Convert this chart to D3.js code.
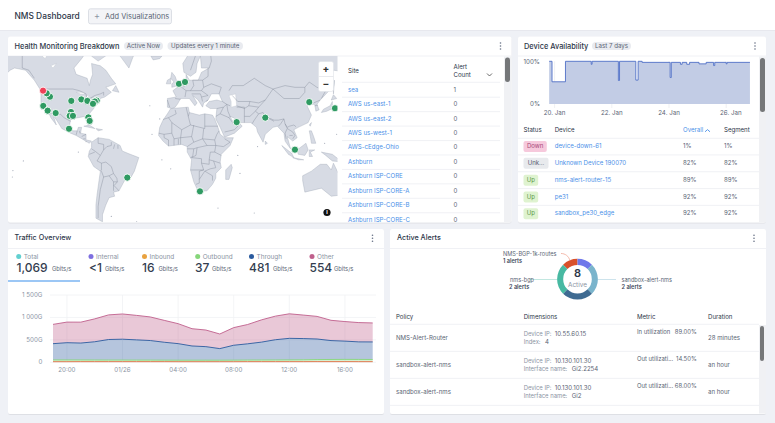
<!DOCTYPE html>
<html>
<head>
<meta charset="utf-8">
<title>NMS Dashboard</title>
<script src="https://cdn.jsdelivr.net/npm/d3@7"></script>
<style>
  html, body { margin: 0; padding: 0; background: #eff1f6; overflow: hidden; }
  svg { display: block; font-family: Inter, "Noto Sans", sans-serif; }
</style>
</head>
<body>
<div id="chart"></div>
<script>
// Health map: sites
const siteLonLat = [
  [-115.8,44.2],[-118.8,46.4],[-121.9,37.9],[-117.9,34.4],[-110.6,32.6],[-96.4,41.4],[-87.3,42.4],
  [-81.8,41.4],[-73.3,41.6],[-75.0,41.0],[-76.7,39.4],[-96.7,33.4],[-97.9,30.4],[-94.9,30.4],[-80.9,29.2],
  [-79.7,26.4],[-98.5,19.8],[1.5,52],[7,53],[54,25.4],[80,29],[120,40.6],[143.4,36.2],[107,1.2],
  [-45.5,-23.5],[20.6,-34.4]
];
const downSiteLonLat = [[-122.1,48.0]];

// Land outlines, rough, in lon/lat
const landShapes = [
  [[-168,66],[-162,70],[-156,71],[-141,70],[-128,70],[-115,68],[-108,68],[-95,68],[-94,72],[-85,70],[-82,67],[-87,64],[-94,60],[-92,57],[-82,55],[-80,51],[-79,54],[-77,57],[-78,62],[-70,61],[-65,59],[-60,55],[-56,52],[-65,50],[-60,47],[-66,44],[-70,43],[-74,40],[-76,36],[-81,31],[-80,26],[-82,27],[-84,30],[-90,29],[-97,28],[-98,22],[-95,18],[-91,18],[-90,21],[-87,21],[-88,16],[-83,15],[-83,10],[-78,9],[-80,7],[-85,10],[-92,14],[-97,16],[-105,20],[-109,26],[-113,31],[-110,23],[-115,29],[-117,33],[-121,35],[-124,40],[-124,48],[-130,54],[-138,59],[-148,60],[-152,59],[-158,56],[-165,54],[-160,59],[-165,62]],
  [[-78,8],[-72,12],[-62,10.5],[-52,5],[-50,0],[-44,-2.5],[-35,-6],[-37,-12],[-39,-18],[-42,-23],[-48,-26],[-53,-34],[-58,-35],[-57,-38],[-62,-39],[-65,-44],[-68,-50],[-68,-54],[-74,-52],[-74,-44],[-73,-37],[-70,-18],[-76,-14],[-81,-5],[-80,0],[-78,3]],
  [[-6,36],[10,37],[11,33],[20,31],[25,32],[32,31],[34,28],[37,21],[39,15],[43,12],[51,12],[48,5],[40,-3],[39,-10],[40,-15],[35,-20],[35,-24],[32,-29],[27,-34],[19,-34.5],[15,-27],[12,-17],[13,-8],[9,-1],[9,4],[4,6],[-4,5],[-8,4.5],[-13,9],[-17,14],[-16,21],[-13,27],[-9,32]],
  [[-9,37],[-9,43],[-1,44],[-4,48],[2,51],[8,54],[8,57],[11,54],[19,54],[22,58],[29,60],[22,60],[21,65],[18,62],[17,58],[12,56],[6,58],[5,62],[14,68],[25,71],[40,67],[44,68],[68,69],[73,72],[100,76],[113,74],[140,73],[160,70],[180,69],[178,62],[163,60],[156,51],[155,58],[142,59],[135,54],[141,50],[130,42],[127,39],[129,35],[126,34],[125,39],[121,39],[118,38],[122,31],[119,25],[110,21],[106,19],[109,12],[105,9],[100,13],[103,2],[98,9],[97,16],[91,22],[87,21],[80,15],[78,8],[73,17],[72,21],[67,25],[57,25],[51,29],[48,30],[51,25],[56,25],[59,22],[52,16],[43,12.5],[39,21],[35,28],[36,36],[30,36],[26,38],[29,41],[36,42],[41,41],[38,46],[31,46],[28,42],[24,40],[23,37],[19,42],[14,45],[18,40],[16,38],[11,43],[3,43],[0,39],[-2,37],[-5,36]],
  [[-5,50],[1,51],[-2,56],[-5,58],[-6,55],[-3,53],[-5,52]],
  [[-10,52],[-6,52],[-6,55],[-9,54]],
  [[-24,65],[-14,65],[-16,64],[-22,63.5]],
  [[131,33],[136,34],[141,36],[141,41],[139,38],[133,35.5]],
  [[140,42],[145,43],[142,45.5]],
  [[142,46],[143,54],[142,50]],
  [[44,-25],[47,-25],[50,-15],[49,-12],[44,-17]],
  [[95,5],[104,-2],[106,-6],[101,-3]],
  [[105,-6],[115,-8],[110,-8]],
  [[109,1],[117,7],[119,1],[116,-4],[110,-3]],
  [[120,1],[125,1],[121,-1],[123,-5],[120,-5]],
  [[131,-1],[141,-3],[150,-10],[141,-9],[135,-4]],
  [[114,-22],[122,-18],[130,-12],[136,-12],[140,-17],[142,-11],[146,-19],[153,-26],[150,-37],[140,-38],[131,-32],[116,-35],[114,-26]],
  [[120,18],[122,18],[124,13],[126,7],[122,7],[121,13]],
  [[120,23],[122,25],[121,22]],
  [[80,9],[82,7],[80,6]],
  [[-85,22],[-75,20],[-80,23]],
  [[-74,20],[-68,19],[-72,18]],
  [[-73,78],[-60,82],[-30,83],[-18,76],[-22,70],[-40,65],[-44,60],[-52,65],[-55,70]],
  [[-80,73],[-68,70],[-62,66],[-72,63],[-78,65],[-88,71]],
  [[-117,70],[-105,69],[-105,73],[-117,73]],
  [[-125,72],[-118,72],[-118,75],[-124,75]],
  [[-59,48],[-53,47],[-56,51]]
];
const waterShapes = [
  [[47,45],[53,46],[54,38],[49,37],[49,41]],
  [[-92,47],[-85,47],[-84,46],[-88,46]],
  [[-87,45],[-86,42],[-88,42]],
  [[-83,45],[-80,45],[-82,43]],
  [[-83,42],[-76,44],[-79,43]],
  [[-123,65],[-118,66],[-120,64]],
  [[-115,61],[-110,62],[-113,60]]
];
const borderLines = [
  [[-123,49],[-95,49],[-89,48],[-83,46],[-82,42],[-75,45],[-70,46],[-67,47],[-67,45]],
  [[-141,70],[-141,60],[-135,59],[-130,55]],
  [[-117,32.5],[-106,31.5],[-103,29],[-97,26]],
  [[-92,14.5],[-91,18]],[[-89,18],[-88.5,15.8]],[[-83,15],[-87,13]],[[-83.5,11],[-85.5,11]],[[-83,9],[-83,8]],
  [[-72,12],[-72,7],[-67,6],[-67,1],[-70,-4]],[[-60,8],[-60,5],[-64,4],[-67,1]],[[-57,6],[-58,2]],[[-54,5.5],[-54,2]],
  [[-78,2],[-75,0],[-70,-4],[-73,-9],[-69,-11],[-69,-17],[-70,-18]],[[-80,-3],[-75,-1]],
  [[-69,-11],[-65,-10],[-60,-14],[-58,-20],[-62,-22],[-67,-23],[-69,-18]],
  [[-58,-20],[-55,-24],[-54.5,-27],[-58,-27],[-62,-22]],[[-54.5,-27],[-57.5,-30],[-53,-34]],[[-58,-27],[-58,-34]],
  [[-67,-23],[-70,-33],[-72,-45],[-72,-52]],
  [[-2,35],[-1,32],[-8,29],[-13,27.5]],[[-8,29],[-5,25],[4,19],[12,23],[10,30],[8,37]],[[10,30],[11,33]],[[12,23],[25,20],[25,32]],
  [[25,22],[37,22]],[[-17,16],[-12,15],[-5,16],[-5,25]],[[-12,15],[-12,12],[-8,10],[-8,4.5]],[[4,19],[3,12],[3,6]],
  [[-5,16],[-3,11],[3,12],[13,13],[15,8],[9,4]],[[-3,11],[-3,5]],[[1,11],[1,6]],[[13,13],[15,23]],
  [[24,20],[23,11],[15,8]],[[23,11],[34,10],[36,15],[38,18]],[[34,10],[35,5],[42,4],[48,8],[43,11]],[[23,11],[27,5],[35,5]],
  [[35,5],[34,-1],[40,-4]],[[34,-1],[30,-1],[29,-8],[33,-9],[39,-11]],[[27,5],[18,3],[15,2],[9,2]],[[15,2],[14,-5],[12,-6]],
  [[18,3],[17,-4],[13,-6]],[[13,-6],[22,-7],[22,-11],[29,-12],[29,-8]],[[22,-11],[24,-17],[12,-17]],[[24,-17],[20,-18],[20,-28],[17,-29]],
  [[33,-9],[35,-15],[30,-16],[25,-18],[20,-25]],[[25,-18],[32,-22],[32,-26]],
  [[-2,43],[3,42.5]],[[-9,42],[-7,37]],[[2,51],[6,49],[8,48],[7,44]],[[7,54],[6,50]],[[14,54],[15,51],[12,48],[8,48]],[[14,54],[23,54],[24,50],[22,48],[17,48],[12,48]],
  [[13,46],[21,46],[22,44],[23,41]],[[28,45],[22,44]],[[22,48],[28,45]],[[24,50],[31,52],[40,50],[38,46]],[[23,54],[28,56],[28,60]],
  [[12,59],[20,69]],[[20,69],[29,70]],[[29,60],[31,63],[29,70]],
  [[28,42],[26,41]],[[36,36],[42,37],[45,39],[41,41]],[[45,39],[48,38]],[[42,37],[39,32],[35,30]],[[39,32],[47,29],[48,30]],
  [[45,39],[46,34],[48,30]],[[47,29],[51,24],[55,22],[52,19],[43,17]],[[61,37],[54,37]],[[61,37],[61,30],[61,25]],[[61,30],[66,30],[71,34],[74,37],[65,38],[61,36]],
  [[71,34],[74,32],[70,27],[68,24]],[[74,32],[78,33],[80,30],[88,27],[92,27],[97,28],[94,24],[92,22]],[[80,30],[88,26]],
  [[50,45],[55,41],[66,41],[74,40],[80,42],[87,49],[80,51],[70,55],[60,51],[50,51],[47,48]],[[54,38],[61,36]],[[66,41],[65,38]],
  [[87,49],[98,51],[107,50],[116,50],[120,53],[127,50],[135,48],[131,43]],[[87,49],[97,43],[111,43],[116,47],[116,50]],
  [[74,37],[80,42]],[[97,28],[98,24],[100,21],[102,22],[106,23],[108,21.5]],[[98,24],[100,20],[98,16],[99,11]],[[100,20],[105,17],[107,14],[105,11]],[[102,14],[105,14]],
  [[124,40],[130,42]],[[125,38],[128,38.5]]
];
const tinyIslands = [
  [-157,21],[-155.5,19.7],[-171,-14],[-175,-21],[-149.5,-17.5],[-160,-21],[-140,-9],[-178,-17],[-172,-3],[-163,-11],[-150,-23],
  [167,-16],[160,-9],[166,-21],[178,-18],[172,2],[145,15],[134,7],[57,-20],[55,-4],[73,4],[-25,38],[-16,28],[-23,15],[-14,-8],[-6,-16],
  [-90,-1],[-60,-51],[-37,-54],[70,-49],[37,-46]
];

// Alerts table on the health card
const siteNames = ['sea','AWS us-east-1','AWS us-east-2','AWS us-west-1','AWS-cEdge-Ohio','Ashburn','Ashburn ISP-CORE','Ashburn ISP-CORE-A','Ashburn ISP-CORE-B','Ashburn ISP-CORE-C'];
const siteAlertCounts = [1,0,0,0,0,0,0,0,0,0];

// Device availability
const availDays = [19.81,19.91,19.91,20.38,20.38,21.28,21.28,21.31,21.31,22.23,22.23,22.27,22.27,22.84,22.84,22.92,22.92,23.06,23.06,24.04,24.04,24.08,24.08,24.4,24.4,24.46,24.46,24.62,24.62,24.72,24.72,25.05,25.05,25.3,25.3,25.56,25.56,25.6,25.6,26.0,26.0,26.03,26.03,26.83];
const availPct  = [100,100,52,52,100,100,93,93,100,100,55,55,100,100,56,56,100,100,97.5,97.5,62,62,97.5,97.5,93,93,97.5,97.5,93,93,97.5,97.5,94,94,97.5,97.5,90,90,97.5,97.5,94,94,97.5,97.5];
const availTicks = [20,22,24,26];

const deviceStatus = ['Down','Unk...','Up','Up','Up'];
const deviceNames = ['device-down-61','Unknown Device 190070','nms-alert-router-15','pe31','sandbox_pe30_edge'];
const deviceOverall = ['1%','82%','89%','92%','92%'];
const deviceSegment = ['1%','82%','89%','92%','92%'];

// Traffic overview
const trafficKeys = ['Total','Internal','Inbound','Outbound','Through','Other'];
const trafficTotals = ['1,069','<1','16','37','481','554'];
const trafficColors = ['#62d0d0','#7e6fe0','#e9a23f','#86d67a','#2a5a9e','#c0608c'];
const trafficHours = d3.range(24); // hourly from 19:00
const inboundVals = [15,15,16,16,16,16,16,16,16,15,15,15,15,15,16,16,16,16,16,17,17,17,16,16];
const outboundVals = [38,38,36,35,34,34,33,33,32,32,32,32,32,33,34,35,36,38,40,44,46,48,48,47];
const throughVals = [362,384,377,407,458,465,451,436,399,369,317,302,258,332,362,399,451,480,473,458,421,407,391,391];
const otherVals = [430,459,466,510,549,562,546,526,488,445,385,370,326,393,430,496,526,547,524,504,452,436,430,423];
const trafficTickHours = [1,5,9,13,17,21];
const trafficTickLabels = ['20:00','01/26','04:00','08:00','12:00','16:00'];
const trafficYTicks = [0,500,1000,1500];
const trafficYLabels = ['0','500G','1 000G','1 500G'];

// Active alerts
const donutNames = ['NMS-BGP-1k-routes','other','sandbox-alert-nms','NMS-Alert-Router','nms-bgp'];
const donutValues = [1,1,2,2,2];
const donutColors = ['#d9512b','#6f78ea','#7ab4cc','#3f6b92','#48b9a2'];

const alertPolicies = ['NMS-Alert-Router','sandbox-alert-nms','sandbox-alert-nms'];
const alertIps = ['10.55.60.15','10.130.101.30','10.130.101.30'];
const alertDimLabels = ['Index:','Interface name:','Interface name:'];
const alertDimValues = ['4','Gi2.2254','Gi2'];
const alertMetrics = ['In utilization','Out utilizati...','Out utilizati...'];
const alertMetricValues = ['89.00%','14.50%','68.00%'];
const alertDurations = ['28 minutes','an hour','an hour'];

const width = 775, height = 423;
const inkDark = '#2c3648', inkMid = '#5a6474', inkSoft = '#8b94a3', linkBlue = '#4a90e8', lineSoft = '#eceef2';
const tableSize = 6.1;

const svg = d3.select('#chart').append('svg')
  .attr('width', width).attr('height', height).attr('viewBox', `0 0 ${width} ${height}`);

const defs = svg.append('defs');
const shadow = defs.append('filter').attr('id', 'cardShadow').attr('x', '-2%').attr('y', '-2%').attr('width', '104%').attr('height', '104%');
shadow.append('feDropShadow').attr('dx', 0).attr('dy', 0.5).attr('stdDeviation', 0.7).attr('flood-color', '#000').attr('flood-opacity', 0.14);

function txt(g, x, y, str, o = {}) {
  return g.append('text').attr('x', x).attr('y', y)
    .attr('dominant-baseline', 'middle')
    .attr('text-anchor', o.anchor || 'start')
    .attr('font-size', o.size || tableSize)
    .attr('font-weight', o.weight || 400)
    .attr('fill', o.fill || inkMid)
    .text(str);
}
function hline(g, x1, x2, y, color = lineSoft) {
  g.append('line').attr('x1', x1).attr('x2', x2).attr('y1', y).attr('y2', y).attr('stroke', color).attr('stroke-width', 0.8);
}
function card(x, y, w, h) {
  svg.append('rect').attr('x', x).attr('y', y).attr('width', w).attr('height', h).attr('rx', 2)
    .attr('fill', '#fff').attr('filter', 'url(#cardShadow)');
}
function kebab(x, y) {
  svg.selectAll(null).data([-3, 0, 3]).enter().append('circle')
    .attr('cx', x).attr('cy', d => y + d).attr('r', 0.8).attr('fill', '#667085');
}
function pill(x, y, w, str) {
  svg.append('rect').attr('x', x).attr('y', y - 4).attr('width', w).attr('height', 8).attr('rx', 4).attr('fill', '#e9ebf0');
  txt(svg, x + w / 2, y, str, { anchor: 'middle', size: 6.2, fill: '#5a6474' });
}
function scrollbar(x, y1, y2, w = 5) {
  svg.append('rect').attr('x', x).attr('y', y1).attr('width', w).attr('height', y2 - y1).attr('rx', w / 2).attr('fill', '#757779');
}

// Page header
svg.append('rect').attr('width', width).attr('height', 30).attr('fill', '#fff');
hline(svg, 0, width, 30.5, '#e4e6ec');
txt(svg, 14.5, 16.5, 'NMS Dashboard', { size: 8.4, weight: 500, fill: inkDark });
svg.append('rect').attr('x', 88.5).attr('y', 8.8).attr('width', 83).attr('height', 15).attr('rx', 2)
  .attr('fill', '#f3f4f7').attr('stroke', '#d4d8e0').attr('stroke-width', 0.8);
txt(svg, 97, 16.5, '+', { anchor: 'middle', size: 9, fill: inkSoft });
txt(svg, 105, 16.5, 'Add Visualizations', { size: 7.4, fill: inkMid });

// Health Monitoring card
card(8, 36.5, 503.5, 186);
txt(svg, 14.5, 46.5, 'Health Monitoring Breakdown', { size: 7.4, weight: 500, fill: inkDark });
pill(124, 46, 39, 'Active Now');
pill(167.5, 46, 75.5, 'Updates every 1 minute');
kebab(500.5, 46);
hline(svg, 8, 511.5, 56);

defs.append('clipPath').attr('id', 'mapClip').append('rect').attr('x', 8).attr('y', 56).attr('width', 329.5).attr('height', 166);
const mapG = svg.append('g').attr('clip-path', 'url(#mapClip)');
const projection = d3.geoMercator().scale(63).translate([177.3, 151]);
const shapePath = d3.line();
const toScreen = pts => pts.map(p => projection(p));

mapG.selectAll('path.land').data(landShapes).enter().append('path').attr('class', 'land')
  .attr('d', d => shapePath(toScreen(d)) + 'Z')
  .attr('fill', '#d7dbe4').attr('stroke', '#9aa2b0').attr('stroke-width', 0.35);
mapG.selectAll('path.water').data(waterShapes).enter().append('path').attr('class', 'water')
  .attr('d', d => shapePath(toScreen(d)) + 'Z')
  .attr('fill', '#fff').attr('stroke', '#b4bac6').attr('stroke-width', 0.3);
mapG.selectAll('path.border').data(borderLines).enter().append('path').attr('class', 'border')
  .attr('d', d => shapePath(toScreen(d)))
  .attr('fill', 'none').attr('stroke', '#7f8796').attr('stroke-width', 0.4);
mapG.selectAll('circle.isle').data(tinyIslands).enter().append('circle').attr('class', 'isle')
  .attr('cx', d => projection(d)[0]).attr('cy', d => projection(d)[1]).attr('r', 0.6).attr('fill', '#a7adba');
mapG.selectAll('circle.site').data(siteLonLat).enter().append('circle').attr('class', 'site')
  .attr('cx', d => projection(d)[0]).attr('cy', d => projection(d)[1]).attr('r', 3.6)
  .attr('fill', '#2f9a62').attr('stroke', '#fff').attr('stroke-width', 0.9);
mapG.selectAll('circle.down').data(downSiteLonLat).enter().append('circle').attr('class', 'down')
  .attr('cx', d => projection(d)[0]).attr('cy', d => projection(d)[1]).attr('r', 3.6)
  .attr('fill', '#ef4058').attr('stroke', '#fff').attr('stroke-width', 0.9);

// Zoom control and info icon
svg.append('rect').attr('x', 318.5).attr('y', 61.5).attr('width', 15).attr('height', 30).attr('rx', 2)
  .attr('fill', '#fff').attr('stroke', '#dfe2e8').attr('stroke-width', 0.6);
hline(svg, 318.5, 333.5, 76.5, '#e3e5ea');
txt(svg, 326, 69.5, '+', { anchor: 'middle', size: 10, weight: 700, fill: '#333' });
txt(svg, 326, 84, '\u2212', { anchor: 'middle', size: 10, weight: 700, fill: '#333' });
svg.append('circle').attr('cx', 327).attr('cy', 212.5).attr('r', 3.6).attr('fill', '#111');
txt(svg, 327, 212.8, 'i', { anchor: 'middle', size: 5.5, weight: 700, fill: '#fff' });

// Site table
txt(svg, 348, 71, 'Site', { fill: inkDark });
txt(svg, 453.5, 67, 'Alert', { fill: inkDark });
txt(svg, 453.5, 75.5, 'Count', { fill: inkDark });
svg.append('path').attr('d', d3.line()([[487, 73.5], [489.5, 76], [492, 73.5]])).attr('fill', 'none').attr('stroke', '#444').attr('stroke-width', 0.8);
const siteRow = d3.scaleLinear().domain([0, 9]).range([90, 220]);
hline(svg, 342, 500, 82.3);
siteNames.forEach((name, i) => {
  txt(svg, 348, siteRow(i), name, { fill: linkBlue });
  txt(svg, 453.5, siteRow(i), siteAlertCounts[i]);
  if (i < 9) hline(svg, 342, 500, siteRow(i) + 7.2);
});
svg.append('rect').attr('x', 504).attr('y', 56.5).attr('width', 7.5).attr('height', 165.5).attr('fill', '#f0f1f4');
scrollbar(505, 57.5, 82);

// Device Availability card
card(518, 36.5, 248, 186);
txt(svg, 524, 46.5, 'Device Availability', { size: 7.4, weight: 500, fill: inkDark });
pill(592, 46, 39, 'Last 7 days');
kebab(755, 46);
hline(svg, 518, 766, 56);

const availX = d3.scaleLinear().domain([20, 22]).range([554.6, 611.8]);
const availY = d3.scaleLinear().domain([0, 100]).range([104, 61.3]);
svg.selectAll(null).data(availTicks).enter().append('line')
  .attr('x1', d => availX(d)).attr('x2', d => availX(d)).attr('y1', 61.3).attr('y2', 108)
  .attr('stroke', '#e4e6eb').attr('stroke-width', 0.6);
const availPts = availDays.map((d, i) => [availX(d), availY(availPct[i])]);
svg.append('path').attr('d', d3.area().x(d => d[0]).y0(availY(0)).y1(d => d[1])(availPts)).attr('fill', '#c2cce5');
svg.append('path').attr('d', d3.line()(availPts)).attr('fill', 'none').attr('stroke', '#4f6fc6').attr('stroke-width', 0.9);
txt(svg, 523.5, 62, '100%', { size: 6.2 });
txt(svg, 530, 104.5, '0%', { size: 6.2 });
availTicks.forEach(d => {
  const nudge = d === 26 ? 4.7 : 0;
  txt(svg, availX(d) + nudge, 113.5, `${d}. Jan`, { anchor: 'middle', size: 6.2 });
});

txt(svg, 523.5, 130.5, 'Status', { fill: inkDark });
txt(svg, 554.7, 130.5, 'Device', { fill: inkDark });
txt(svg, 683, 130.5, 'Overall', { fill: linkBlue });
svg.append('path').attr('d', d3.line()([[705, 131.8], [707.5, 129.6], [710, 131.8]])).attr('fill', 'none').attr('stroke', linkBlue).attr('stroke-width', 0.9);
txt(svg, 724, 130.5, 'Segment', { fill: inkDark });
hline(svg, 518, 759, 138.3);
const deviceRow = d3.scaleLinear().domain([0, 4]).range([146.5, 213.8]);
const badgeStyle = { 'Down': ['#f6c9dc', '#a8487a', 23.3], 'Unk...': ['#e8eaed', '#596270', 25], 'Up': ['#dff3d0', '#5b9a48', 14.7] };
deviceNames.forEach((name, i) => {
  const y = deviceRow(i), st = badgeStyle[deviceStatus[i]];
  svg.append('rect').attr('x', 523.5).attr('y', y - 5.5).attr('width', st[2]).attr('height', 11).attr('rx', 2).attr('fill', st[0]);
  txt(svg, 523.5 + st[2] / 2, y, deviceStatus[i], { anchor: 'middle', fill: st[1] });
  txt(svg, 554.7, y, name, { fill: linkBlue });
  txt(svg, 683, y, deviceOverall[i]);
  txt(svg, 724, y, deviceSegment[i]);
  if (i < 4) hline(svg, 518, 759, y + 8.4);
});
svg.append('rect').attr('x', 759).attr('y', 56.5).attr('width', 7).attr('height', 165.5).attr('fill', '#f0f1f4');
scrollbar(760, 58, 112);

// Traffic Overview card
card(8, 229, 376, 185);
txt(svg, 14.5, 238.3, 'Traffic Overview', { size: 7.2, weight: 500, fill: inkDark });
kebab(372.5, 238.3);
hline(svg, 8, 384, 248.5);

const legendDotX = [18.7, 91, 144.5, 197.7, 251.5, 312];
const legendValX = [16.5, 89, 142, 195, 249, 309.5];
const legendUnitX = [52, 105, 158.5, 212, 273, 334];
trafficKeys.forEach((k, i) => {
  svg.append('circle').attr('cx', legendDotX[i]).attr('cy', 256.5).attr('r', 2.5).attr('fill', trafficColors[i]);
  txt(svg, legendDotX[i] + 5, 256.8, k, { size: 6.4, fill: inkSoft });
  txt(svg, legendValX[i], 268.5, trafficTotals[i], { size: 12, weight: 500, fill: '#333d4f' });
  txt(svg, legendUnitX[i], 269.5, 'Gbits/s', { size: 5.8, fill: inkMid });
});
svg.append('rect').attr('x', 8).attr('y', 280.4).attr('width', 72).attr('height', 1.2).attr('fill', '#5ba3ef');

const trafficX = d3.scaleLinear().domain([0, 23]).range([53, 372.7]);
const trafficY = d3.scaleLinear().domain([0, 1500]).range([362.3, 295]);
trafficYTicks.forEach((t, i) => {
  hline(svg, 50, 376, trafficY(t), '#f0f1f4');
  txt(svg, 42.5, trafficY(t), trafficYLabels[i], { anchor: 'end', size: 6.2, fill: inkSoft });
});
trafficTickHours.forEach((h, i) => {
  svg.append('line').attr('x1', trafficX(h)).attr('x2', trafficX(h)).attr('y1', 295).attr('y2', 362.3)
    .attr('stroke', '#f0f1f4').attr('stroke-width', 0.8);
  txt(svg, trafficX(h), 370, trafficTickLabels[i], { anchor: 'middle', size: 6.2, fill: inkSoft });
});

const trafficRows = trafficHours.map(h => ({
  inbound: inboundVals[h], outbound: outboundVals[h], through: throughVals[h], other: otherVals[h]
}));
const trafficStackKeys = ['inbound', 'outbound', 'through', 'other'];
const trafficStackColors = ['#e07a50', '#86d67a', '#2a5a9e', '#c0608c'];
const stacked = d3.stack().keys(trafficStackKeys)(trafficRows);
const stackArea = d3.area().x((d, i) => trafficX(i)).y0(d => trafficY(d[0])).y1(d => trafficY(d[1]));
const stackTop = d3.line().x((d, i) => trafficX(i)).y(d => trafficY(d[1]));
svg.selectAll('path.layer').data(stacked).enter().append('path').attr('class', 'layer')
  .attr('d', stackArea).attr('fill', (d, i) => trafficStackColors[i]).attr('fill-opacity', 0.35);
svg.selectAll('path.top').data(stacked).enter().append('path').attr('class', 'top')
  .attr('d', stackTop).attr('fill', 'none').attr('stroke', (d, i) => trafficStackColors[i]).attr('stroke-width', 0.9);

// Active Alerts card
card(390, 229, 376, 185);
txt(svg, 397, 238.3, 'Active Alerts', { size: 7.2, weight: 500, fill: inkDark });
kebab(754, 238.3);
hline(svg, 390, 766, 248.5);

const donutG = svg.append('g').attr('transform', 'translate(577.5,279.2)');
const donutPie = d3.pie().sort(null).startAngle(-Math.PI / 4).endAngle(Math.PI * 7 / 4);
const donutArc = d3.arc().innerRadius(14.3).outerRadius(20.4);
donutG.selectAll('path').data(donutPie(donutValues)).enter().append('path')
  .attr('d', donutArc).attr('fill', (d, i) => donutColors[i]);
txt(donutG, 0, -5, d3.sum(donutValues), { anchor: 'middle', size: 11, weight: 600, fill: inkDark });
txt(donutG, 0, 6.3, 'Active', { anchor: 'middle', size: 6.4, fill: inkSoft });

svg.append('path').attr('d', 'M561,253.5 C565,253.5 569,256 570,261').attr('fill', 'none').attr('stroke', '#ee9c88').attr('stroke-width', 0.7);
svg.append('line').attr('x1', 530).attr('x2', 557).attr('y1', 279.5).attr('y2', 279.5).attr('stroke', '#a8ddd2').attr('stroke-width', 0.7);
svg.append('line').attr('x1', 598).attr('x2', 616).attr('y1', 279.5).attr('y2', 279.5).attr('stroke', '#b7d7e4').attr('stroke-width', 0.7);
txt(svg, 503, 254.3, donutNames[0], { size: 5.6 });
txt(svg, 503, 261.3, `${donutValues[0]} alerts`, { size: 5.6, weight: 600, fill: '#3c4657' });
txt(svg, 510, 280, donutNames[4], { size: 5.6 });
txt(svg, 509, 287, `${donutValues[4]} alerts`, { size: 5.6, weight: 600, fill: '#3c4657' });
txt(svg, 621.5, 280, donutNames[2], { size: 5.6 });
txt(svg, 621.5, 287, `${donutValues[2]} alerts`, { size: 5.6, weight: 600, fill: '#3c4657' });

[['Policy', 396], ['Dimensions', 523.7], ['Metric', 637], ['Duration', 708]].forEach(h => {
  txt(svg, h[1], 317, h[0], { fill: inkDark });
});
hline(svg, 390, 759, 324.3);
const alertRow = d3.scaleLinear().domain([0, 2]).range([338, 392]);
alertPolicies.forEach((policy, i) => {
  const y = alertRow(i), labelEnd = i === 0 ? 545 : 571.7;
  txt(svg, 396, y, policy);
  txt(svg, 523.7, y - 4, 'Device IP:', { size: 5.9, fill: inkSoft });
  txt(svg, 554.7, y - 4, alertIps[i]);
  txt(svg, 523.7, y + 4.2, alertDimLabels[i], { size: 5.9, fill: inkSoft });
  txt(svg, labelEnd, y + 4.2, alertDimValues[i]);
  txt(svg, 637, y - 6, alertMetrics[i], { size: 5.9 });
  txt(svg, 696.7, y - 6, alertMetricValues[i], { anchor: 'end', size: 5.9 });
  txt(svg, 708, y, alertDurations[i]);
  hline(svg, 390, 759, y + 13.4);
});
svg.append('rect').attr('x', 759).attr('y', 325).attr('width', 7).attr('height', 88.5).attr('fill', '#f0f1f4');
scrollbar(760, 326, 361, 4);
</script>
</body>
</html>
